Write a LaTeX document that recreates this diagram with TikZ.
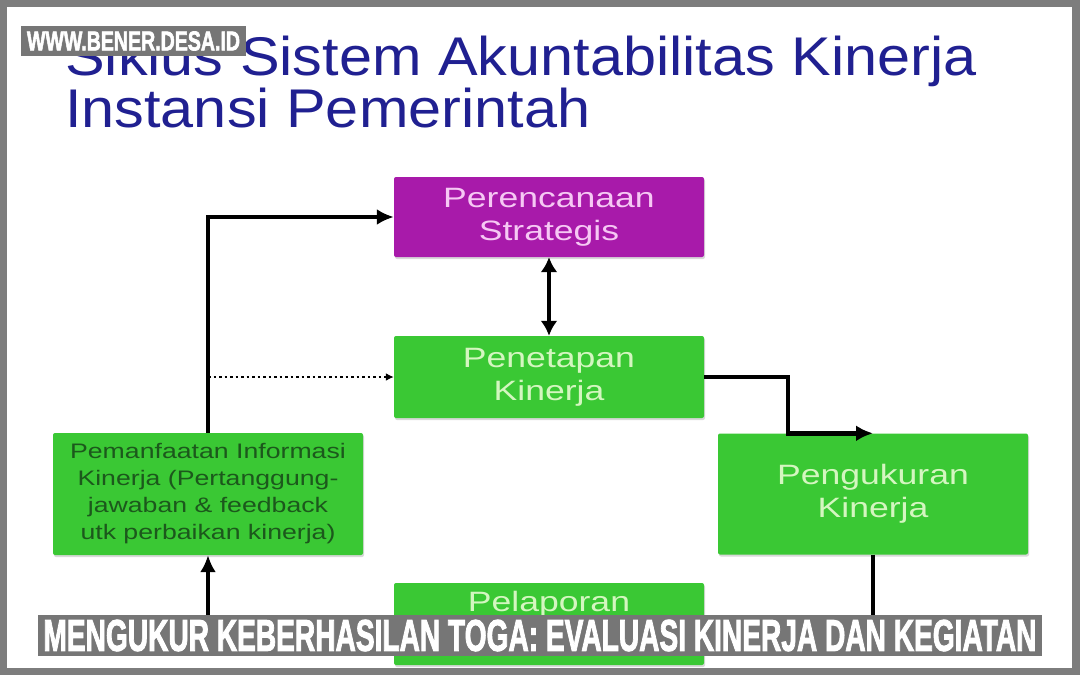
\documentclass[tikz,border=0pt]{standalone}
\usepackage{fontspec}
\usepackage{graphicx}
\setmainfont{Liberation Sans}
\newfontfamily\titlefont{Liberation Sans}[FakeStretch=1.09]
\newfontfamily\boxfont{Liberation Sans}[FakeStretch=1.27]
\newfontfamily\bannerfont{Liberation Sans Bold}[FakeBold=2.5]
\usetikzlibrary{positioning,arrows.meta,shadows}
\definecolor{framegray}{RGB}{125,125,125}
\definecolor{bannergray}{RGB}{118,118,118}
\definecolor{titleblue}{RGB}{32,32,145}
\definecolor{plumbox}{RGB}{168,26,170}
\definecolor{plumtxt}{RGB}{246,200,244}
\definecolor{greenbox}{RGB}{58,200,52}
\definecolor{greentxt}{RGB}{212,246,192}
\definecolor{darkgreentxt}{RGB}{28,88,28}
\tikzset{
  blkp/.style={rectangle, rounded corners=2pt, fill=plumbox, text=plumtxt,
               align=center, minimum width=310pt, minimum height=80pt, inner sep=0pt,
               font=\boxfont\fontsize{28}{33}\selectfont,
               drop shadow={shadow xshift=1pt, shadow yshift=-2pt, fill=black!30}},
  blkg/.style={blkp, fill=greenbox, text=greentxt, minimum height=82pt},
  blkd/.style={blkg, text=darkgreentxt, minimum height=122pt,
               font=\boxfont\fontsize{21}{27}\selectfont},
  titletxt/.style={text=titleblue, inner sep=0pt, font=\titlefont\fontsize{54.5}{60}\selectfont},
  flowarr/.style={-{Latex[length=17pt,width=16pt]}, line width=4.5pt},
  dblarr/.style={{Latex[length=15pt,width=17pt]}-{Latex[length=15pt,width=17pt]}, line width=4.5pt},
  dotarr/.style={-{Latex[length=8pt,width=8pt]}, line width=2.5pt, dash pattern=on 2.5pt off 3pt},
  plainln/.style={line width=4.5pt},
  banner/.style={rectangle, fill=bannergray, text=white, minimum width=1004pt,
                 minimum height=41pt, inner sep=0pt, font=\bannerfont},
  wmark/.style={rectangle, fill=bannergray, text=white, minimum width=225pt,
                minimum height=30pt, inner sep=0pt, font=\bannerfont},
}

\begin{document}
\begin{tikzpicture}[x=1pt,y=-1pt]
\useasboundingbox (0,0) rectangle (1080,675);
% frame
\fill[framegray] (0,0) rectangle (1080,675);
\fill[white] (7,7) rectangle (1072,668);
% title
\node[titletxt, anchor=base west] (judul1) at (65,75) {Siklus Sistem Akuntabilitas Kinerja};
\node[titletxt, anchor=base west] (judul2) at (65,127) {Instansi Pemerintah};
% cycle boxes
\node[blkp] (plan) at (549,217) {Perencanaan\\Strategis};
\node[blkg] (tetap) at (549,377) {Penetapan\\Kinerja};
\node[blkg, minimum height=121pt] (ukur) at (873,494) {Pengukuran\\Kinerja};
\node[blkd] (manfaat) at (208,494) {Pemanfaatan Informasi\\Kinerja (Pertanggung-\\jawaban \& feedback\\utk perbaikan kinerja)};
\node[blkg] (lapor) at (549,624) {};
\node[anchor=base, inner sep=0pt, text=greentxt, font=\boxfont\fontsize{28}{33}\selectfont] (laporlbl) at (549,611) {Pelaporan};
% connectors
\coordinate (botL) at (208,640);
\coordinate (botR) at (873,640);
\draw[flowarr] (manfaat.north) |- (plan.west);
\draw[dblarr] (plan.south) -- (tetap.north);
\draw[dotarr] (manfaat.north |- tetap.west) -- (tetap.west);
\draw[flowarr] (tetap.east) -- ++(84,0) |- (ukur.north);
\draw[plainln] (ukur.south) -- (botR);
\draw[flowarr] (botL) -- (manfaat.south);
% overlays
\node[banner] (judulbawah) at (540,635.5) {\resizebox{993pt}{31pt}{MENGUKUR KEBERHASILAN TOGA: EVALUASI KINERJA DAN KEGIATAN}};
\node[wmark] (situs) at (133.5,41) {\resizebox{213pt}{19pt}{WWW.BENER.DESA.ID}};
\end{tikzpicture}
\end{document}
